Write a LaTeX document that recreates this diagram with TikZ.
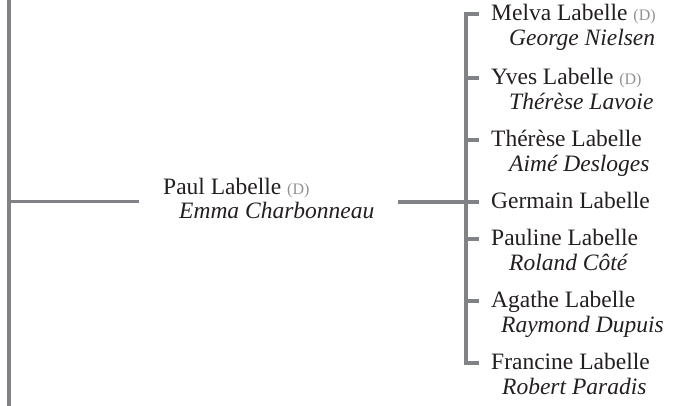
\documentclass[tikz,border=0pt]{standalone}
\usepackage{fontspec}
\setmainfont{Liberation Serif}
\definecolor{linegray}{RGB}{128,130,133}
\definecolor{dgray}{RGB}{145,145,145}
\definecolor{inkblack}{RGB}{35,31,32}
\tikzset{
  conn/.style={draw=linegray, line width=3.4pt},
  namebox/.style={anchor=base west, inner sep=0pt, text=inkblack, font=\fontsize{23.5}{23.5}\selectfont},
  spousebox/.style={anchor=base west, inner sep=0pt, text=inkblack, font=\fontsize{23.5}{23.5}\selectfont\itshape},
}
\newcommand{\dmark}{\textcolor{dgray}{\fontsize{16}{16}\selectfont(D)}}
\begin{document}
\begin{tikzpicture}[x=1pt,y=1pt]
\useasboundingbox (0,0) rectangle (681,-406);
% left spine
\coordinate (spTop) at (9,0);
\coordinate (spBot) at (9,-406);
\coordinate (spMid) at (9,-201.5);
\coordinate (paulIn) at (139,-201.5);
\draw[conn] (spTop) -- (spBot);
\draw[conn] (spMid) -- (paulIn);
% Paul
\node[namebox] (paul) at (163,-195) {Paul Labelle \dmark};
\node[spousebox] (emma) at (179,-219) {Emma Charbonneau};
% bracket
\coordinate (paulOut) at (398,-202);
\coordinate (brMid) at (467.5,-202);
\draw[conn] (paulOut) -- (brMid);
\coordinate (b1) at (467.5,-14);
\coordinate (b2) at (467.5,-78);
\coordinate (b3) at (467.5,-140);
\coordinate (b4) at (467.5,-202);
\coordinate (b5) at (467.5,-239);
\coordinate (b6) at (467.5,-301);
\coordinate (b7) at (467.5,-363);
\coordinate (t1) at (479,-14);
\coordinate (t2) at (479,-78);
\coordinate (t3) at (479,-140);
\coordinate (t4) at (479,-202);
\coordinate (t5) at (479,-239);
\coordinate (t6) at (479,-301);
\coordinate (t7) at (479,-363);
\draw[conn] (t1) -- ([xshift=-1.7pt]b1) -- ([xshift=-1.7pt]b7) -- (t7);
\draw[conn] (b1) -- (t1);
\draw[conn] (b2) -- (t2);
\draw[conn] (b3) -- (t3);
\draw[conn] (b4) -- (t4);
\draw[conn] (b5) -- (t5);
\draw[conn] (b6) -- (t6);
% children
\node[namebox] (c1) at (491,-21) {Melva Labelle \dmark};
\node[spousebox] (s1) at (509,-46) {George Nielsen};
\node[namebox] (c2) at (491,-85) {Yves Labelle \dmark};
\node[spousebox] (s2) at (509,-110) {Thérèse Lavoie};
\node[namebox] (c3) at (491,-147) {Thérèse Labelle};
\node[spousebox] (s3) at (509,-172) {Aimé Desloges};
\node[namebox] (c4) at (491,-209) {Germain Labelle};
\node[namebox] (c5) at (491,-246) {Pauline Labelle};
\node[spousebox] (s5) at (509,-271) {Roland Côté};
\node[namebox] (c6) at (491,-308) {Agathe Labelle};
\node[spousebox] (s6) at (501,-333) {Raymond Dupuis};
\node[namebox] (c7) at (491,-370) {Francine Labelle};
\node[spousebox] (s7) at (502,-395) {Robert Paradis};
\end{tikzpicture}
\end{document}
